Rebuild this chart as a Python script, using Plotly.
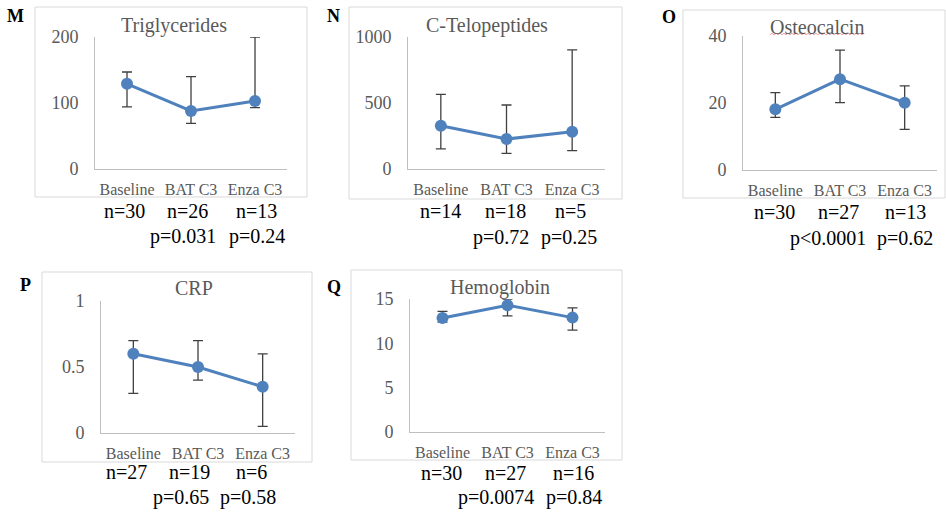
import plotly.graph_objects as go

# ---------------- data ----------------
categories = ["Baseline", "BAT C3", "Enza C3"]

trig_mean = [129, 88, 103]
trig_upper = [147, 140, 200]
trig_lower = [94, 69, 93]
trig_n = ["n=30", "n=26", "n=13"]
trig_p = ["", "p=0.031", "p=0.24"]

ctx_mean = [328, 227, 283]
ctx_upper = [566, 485, 902]
ctx_lower = [152, 119, 139]
ctx_n = ["n=14", "n=18", "n=5"]
ctx_p = ["", "p=0.72", "p=0.25"]

osteo_mean = [18.1, 27.1, 20.1]
osteo_upper = [23.1, 35.8, 25.1]
osteo_lower = [15.7, 20.1, 12.1]
osteo_n = ["n=30", "n=27", "n=13"]
osteo_p = ["", "p<0.0001", "p=0.62"]

crp_mean = [0.60, 0.50, 0.35]
crp_upper = [0.70, 0.70, 0.60]
crp_lower = [0.30, 0.40, 0.05]
crp_n = ["n=27", "n=19", "n=6"]
crp_p = ["", "p=0.65", "p=0.58"]

hgb_mean = [12.85, 14.3, 12.9]
hgb_upper = [13.6, 15.0, 14.0]
hgb_lower = [12.4, 13.1, 11.5]
hgb_n = ["n=30", "n=27", "n=16"]
hgb_p = ["", "p=0.0074", "p=0.84"]

titles = ["Triglycerides", "C-Telopeptides", "Osteocalcin", "CRP", "Hemoglobin"]
letters = ["M", "N", "O", "P", "Q"]
y_max = [200, 1000, 40, 1, 15]
y_dtick = [100, 500, 20, 0.5, 5]

series = [
    (trig_mean, trig_upper, trig_lower, trig_n, trig_p),
    (ctx_mean, ctx_upper, ctx_lower, ctx_n, ctx_p),
    (osteo_mean, osteo_upper, osteo_lower, osteo_n, osteo_p),
    (crp_mean, crp_upper, crp_lower, crp_n, crp_p),
    (hgb_mean, hgb_upper, hgb_lower, hgb_n, hgb_p),
]

# ---------------- layout geometry (pixels) ----------------
W, H = 946, 512
def fx(px):
    return px / W
def fy(py):
    return 1 - py / H

# plot area: x0, x1, ytop, ybottom ; box: bx0, bx1, by0, by1
geom = [
    dict(x0=95, x1=287, yt=37, yb=169, bx0=35, bx1=307, by0=7, by1=197,
         tx=174, ty=25, lx=15, ly=16, caty=189, ny=211, py=236),
    dict(x0=408, x1=605, yt=37, yb=169, bx0=349, bx1=622, by0=7, by1=199,
         tx=487, ty=25, lx=333, ly=16, caty=189, ny=211, py=237),
    dict(x0=743, x1=937, yt=36, yb=170, bx0=683, bx1=945, by0=10, by1=198,
         tx=817, ty=27, lx=669, ly=17, caty=189, ny=212, py=238),
    dict(x0=101, x1=295, yt=301, yb=433, bx0=42, bx1=312, by0=272, by1=462,
         tx=194, ty=288, lx=25, ly=285, caty=453, ny=472, py=497),
    dict(x0=410, x1=605, yt=299, yb=432, bx0=351, bx1=622, by0=270, by1=460,
         tx=500, ty=287, lx=334, ly=287, caty=452, ny=473, py=497),
]
# horizontal nudges of the n=/p= text boxes relative to category centres (px)
n_shift = [[-3, -4, 1], [0, -1, -2], [-1, -2, 1], [-7, -9, -11], [-1, -2, 1]]
p_shift = [[0, -8, 2], [0, -6, -3], [0, -12, 0], [0, -17, -15], [0, -12, 1]]

BLUE = "#4F81BD"
GRAY = "#595959"
FONT = "Liberation Serif, Times New Roman, Tinos, DejaVu Serif, serif"

fig = go.Figure()
shapes = []
annotations = []
layout = {}

for i, (mean, up, lo, ns, ps) in enumerate(series):
    g = geom[i]
    k = "" if i == 0 else str(i + 1)
    xa, ya = "x" + k, "y" + k
    err_plus = [u - m for u, m in zip(up, mean)]
    err_minus = [m - l for m, l in zip(mean, lo)]
    fig.add_trace(go.Scatter(
        x=categories, y=mean, xaxis=xa, yaxis=ya, mode="lines+markers",
        line=dict(color=BLUE, width=3),
        marker=dict(color=BLUE, size=12),
        error_y=dict(type="data", symmetric=False, array=err_plus,
                     arrayminus=err_minus, color="#404040", thickness=1.3, width=5),
        cliponaxis=False, showlegend=False, hoverinfo="skip",
    ))
    layout["xaxis" + k] = dict(
        domain=[fx(g["x0"]), fx(g["x1"])], anchor=ya, type="category",
        range=[-0.5, 2.5], showline=True, linecolor="#BFBFBF", linewidth=1,
        showgrid=False, zeroline=False, ticks="", fixedrange=True, automargin=False,
        tickfont=dict(family=FONT, size=16, color=GRAY), ticklabelstandoff=6,
    )
    layout["yaxis" + k] = dict(
        domain=[fy(g["yb"]), fy(g["yt"])], anchor=xa,
        range=[0, y_max[i]], dtick=y_dtick[i], tick0=0,
        showline=True, linecolor="#BFBFBF", linewidth=1,
        showgrid=False, zeroline=False, ticks="", fixedrange=True, automargin=False,
        tickfont=dict(family=FONT, size=18, color=GRAY), ticklabelstandoff=12,
    )
    # box
    shapes.append(dict(type="rect", xref="paper", yref="paper",
                       x0=fx(g["bx0"]), x1=fx(g["bx1"]), y0=fy(g["by1"]), y1=fy(g["by0"]),
                       line=dict(color="#D9D9D9", width=1), fillcolor="rgba(0,0,0,0)",
                       layer="below"))
    # title
    annotations.append(dict(text=titles[i], xref="paper", yref="paper",
                            x=fx(g["tx"]), y=fy(g["ty"]), showarrow=False,
                            xanchor="center", yanchor="middle",
                            font=dict(family=FONT, size=20, color=GRAY)))
    # panel letter
    annotations.append(dict(text="<b>%s</b>" % letters[i], xref="paper", yref="paper",
                            x=fx(g["lx"]), y=fy(g["ly"]), showarrow=False,
                            xanchor="center", yanchor="middle",
                            font=dict(family=FONT, size=18, color="black")))
    # n= / p= labels
    for j, c in enumerate(categories):
        annotations.append(dict(text=ns[j], xref=xa, yref="paper", x=c, y=fy(g["ny"]),
                                xshift=n_shift[i][j], showarrow=False,
                                xanchor="center", yanchor="middle",
                                font=dict(family=FONT, size=20, color="black")))
        if ps[j]:
            annotations.append(dict(text=ps[j], xref=xa, yref="paper", x=c, y=fy(g["py"]),
                                    xshift=p_shift[i][j], showarrow=False,
                                    xanchor="center", yanchor="middle",
                                    font=dict(family=FONT, size=20, color="black")))

# spell-check style squiggle under "Osteocalcin"
sx0, sx1, sy = 770, 864, 34
pts = []
xx = sx0
step = 0
while xx <= sx1:
    yy = sy + (0.8 if step % 2 == 0 else -0.8)
    pts.append("%s%.5f,%.5f" % ("M" if step == 0 else "L", fx(xx), fy(yy)))
    xx += 2
    step += 1
shapes.append(dict(type="path", xref="paper", yref="paper", path=" ".join(pts),
                   line=dict(color="#F2A0A0", width=1)))

fig.update_layout(
    width=W, height=H, margin=dict(l=0, r=0, t=0, b=0, autoexpand=False),
    paper_bgcolor="white", plot_bgcolor="white",
    font=dict(family=FONT),
    shapes=shapes, annotations=annotations, **layout,
)

fig.write_html("out.html")
